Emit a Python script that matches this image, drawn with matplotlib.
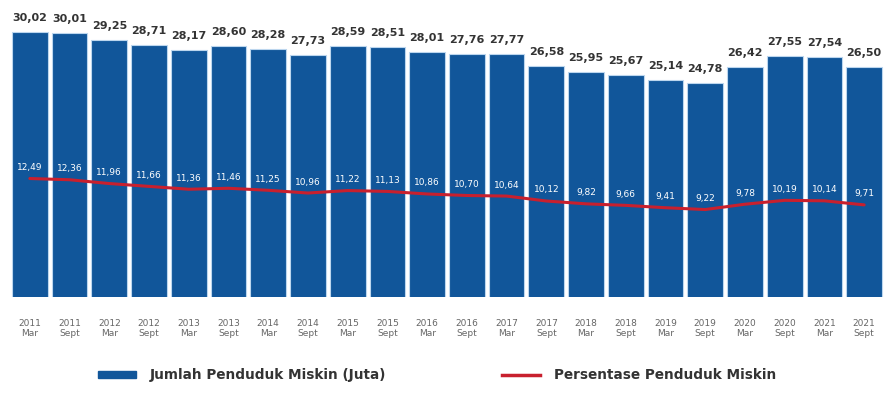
import matplotlib
matplotlib.use("Agg")
import matplotlib.pyplot as plt
from matplotlib.lines import Line2D
from matplotlib.patches import Patch

years = ["2011", "2011", "2012", "2012", "2013", "2013", "2014", "2014", "2015", "2015", "2016",
         "2016", "2017", "2017", "2018", "2018", "2019", "2019", "2020", "2020", "2021", "2021"]
periods = ["Mar", "Sept"] * 11
jumlah = [30.02, 30.01, 29.25, 28.71, 28.17, 28.60, 28.28, 27.73, 28.59, 28.51, 28.01,
          27.76, 27.77, 26.58, 25.95, 25.67, 25.14, 24.78, 26.42, 27.55, 27.54, 26.50]
persen = [12.49, 12.36, 11.96, 11.66, 11.36, 11.46, 11.25, 10.96, 11.22, 11.13, 10.86,
          10.70, 10.64, 10.12, 9.82, 9.66, 9.41, 9.22, 9.78, 10.19, 10.14, 9.71]

def fmt(v):
    return f"{v:.2f}".replace(".", ",")

BLUE = "#11569a"
RED = "#c8202e"

fig = plt.figure(figsize=(8.88, 3.94), dpi=100)
ax = fig.add_axes([10/888, 1 - 297/394, 874/888, 277/394])
x = list(range(len(jumlah)))
ax.bar(x, jumlah, width=0.9, color=BLUE, edgecolor="#bcd6ee", linewidth=0.8, zorder=2)
ax.set_xlim(-0.5, len(jumlah) - 0.5)
ax.set_ylim(2.8, 31.3)
for s in ax.spines.values():
    s.set_visible(False)
ax.set_yticks([])
ax.set_xticks(x)
ax.set_xticklabels([f"{y}\n{p}" for y, p in zip(years, periods)], fontsize=6.5,
                   color="#666666", linespacing=1.05)
ax.tick_params(axis="x", length=0, pad=16)
for xi, v in zip(x, jumlah):
    ax.annotate(fmt(v), (xi, v), xytext=(0, 14), textcoords="offset pixels",
                ha="center", va="center", fontsize=8, fontweight="bold", color="#333333")

ax2 = ax.twinx()
ax2.set_ylim(0, 29.2)
ax2.plot(x, persen, color=RED, linewidth=2.2, zorder=3, solid_capstyle="round")
ax2.set_yticks([])
for s in ax2.spines.values():
    s.set_visible(False)
for xi, v in zip(x, persen):
    ax2.annotate(fmt(v), (xi, v), xytext=(0, 11), textcoords="offset pixels",
                 ha="center", va="center", fontsize=6.5, color="white")

handles = [Patch(facecolor=BLUE, edgecolor=BLUE), Line2D([], [], color=RED, linewidth=2.5)]
leg = fig.legend(handles, ["Jumlah Penduduk Miskin (Juta)", "Persentase Penduduk Miskin"],
                 loc="center", bbox_to_anchor=(437/888, 1 - 375/394), ncol=2, frameon=False,
                 fontsize=9.8, columnspacing=8.5, handlelength=2.8, handleheight=0.4,
                 handletextpad=1.0)
for t in leg.get_texts():
    t.set_color("#333333")
    t.set_fontweight("semibold")

fig.savefig("out.png", dpi=100)
